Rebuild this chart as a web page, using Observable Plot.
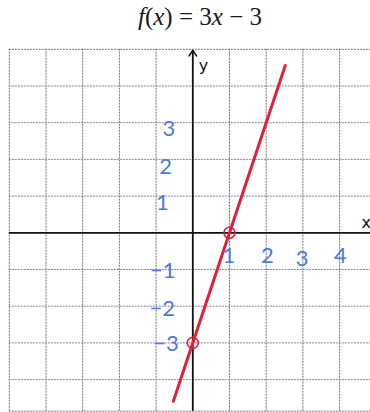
<!DOCTYPE html>
<html>
<head>
<meta charset="utf-8">
<script src="https://cdn.jsdelivr.net/npm/d3@7"></script>
<script src="https://cdn.jsdelivr.net/npm/@observablehq/plot@0.6"></script>
<style>
  html, body { margin: 0; padding: 0; background: #fff; }
  #title { height: 40px; width: 370px; position: relative; font-family: "Liberation Serif", "DejaVu Serif", serif; font-size: 25px; color: #1a1a1a; }
  #title span.t { position: absolute; left: 200px; top: 3px; transform: translateX(-50%); white-space: nowrap; }
  #title i { font-style: italic; }
</style>
</head>
<body>
<div id="title"><span class="t"><i>f</i>(<i>x</i>) = 3<i>x</i> − 3</span></div>
<div id="chart"></div>
<script>
// Function f(x) = 3x - 3, drawn between its visible ends
const lineX = [-0.53, 2.52];
const slope = 3;
const intercept = -3;
// Marked points (zero and y-intercept)
const markedX = [1, 0];
const markedY = [0, -3];
// Grid
const gridX = [-5, -4, -3, -2, -1, 1, 2, 3, 4];
const gridY = [5, 4, 3, 2, 1, -1, -2, -3, -4];
// Handwritten tick labels
const yLabelText = ["3", "2", "1", "−1", "−2", "−3"];
const yLabelVal = [2.83, 1.79, 0.8, -1.03, -2.07, -3.03];
const yLabelX = [-0.65, -0.74, -0.83, -0.82, -0.83, -0.73];
const xLabelText = ["1", "2", "3", "4"];
const xLabelVal = [0.98, 2.03, 2.98, 4.02];
const xLabelY = [-0.62, -0.62, -0.7, -0.62];

const lineData = lineX.map(x => ({x, y: slope * x + intercept}));
const pts = markedX.map((x, i) => ({x, y: markedY[i]}));
const yLabels = yLabelText.map((t, i) => ({t, x: yLabelX[i], y: yLabelVal[i]}));
const xLabels = xLabelText.map((t, i) => ({t, x: xLabelVal[i], y: xLabelY[i]}));

const W = 370, H = 372;
const unit = 36.7;
const ox = 192.3, oy = 192.3;
const xDomain = [(0 - ox) / unit, (W - ox) / unit];
const yDomain = [(oy - H) / unit, oy / unit];
const yBottom = -4.86;
const xRight = xDomain[1];

const gridStroke = "#6f7278";
const blue = "#4f78da";
const red = "#e3203c";

const chart = Plot.plot({
  width: W,
  height: H,
  margin: 0,
  x: {domain: xDomain, axis: null},
  y: {domain: yDomain, axis: null},
  marks: [
    Plot.ruleX(gridX, {x: d => d, y1: yBottom, y2: 5, stroke: gridStroke, strokeWidth: 1, strokeDasharray: "2,1"}),
    Plot.ruleY(gridY, {y: d => d, x1: -5, x2: xRight, stroke: d => d === 5 ? gridStroke : "#7d84a0", strokeWidth: 1, strokeDasharray: "2,1"}),
    Plot.ruleY([yBottom], {x1: -5, x2: xRight, stroke: gridStroke, strokeWidth: 1, strokeDasharray: "2,1"}),
    // axes
    Plot.ruleY([0], {x1: -5, x2: xRight, stroke: "#111", strokeWidth: 1.8}),
    Plot.ruleX([0], {y1: yBottom, y2: 4.97, stroke: "#111", strokeWidth: 1.8}),
    Plot.line([{x: -0.1, y: 4.82}, {x: 0, y: 4.97}, {x: 0.1, y: 4.82}], {x: "x", y: "y", stroke: "#111", strokeWidth: 1.6}),
    Plot.text(["y"], {x: 0.16, y: 4.56, text: d => d, fontSize: 16, fill: "#111", textAnchor: "start", fontFamily: "DejaVu Sans"}),
    Plot.text(["x"], {x: 4.6, y: 0.27, text: d => d, fontSize: 16, fill: "#111", textAnchor: "start", fontFamily: "DejaVu Sans"}),
    // function line
    Plot.line(lineData, {x: "x", y: "y", stroke: red, strokeWidth: 3, strokeLinecap: "round"}),
    Plot.dot(pts, {x: "x", y: "y", r: 5.5, stroke: red, strokeWidth: 1.6, fill: "none"}),
    // handwritten labels
    Plot.text(yLabels, {x: "x", y: "y", text: "t", fill: blue, fontSize: 22, fontFamily: "Lato"}),
    Plot.text(xLabels, {x: "x", y: "y", text: "t", fill: blue, fontSize: 22, fontFamily: "Lato"})
  ]
});
document.getElementById("chart").appendChild(chart);
</script>
</body>
</html>
